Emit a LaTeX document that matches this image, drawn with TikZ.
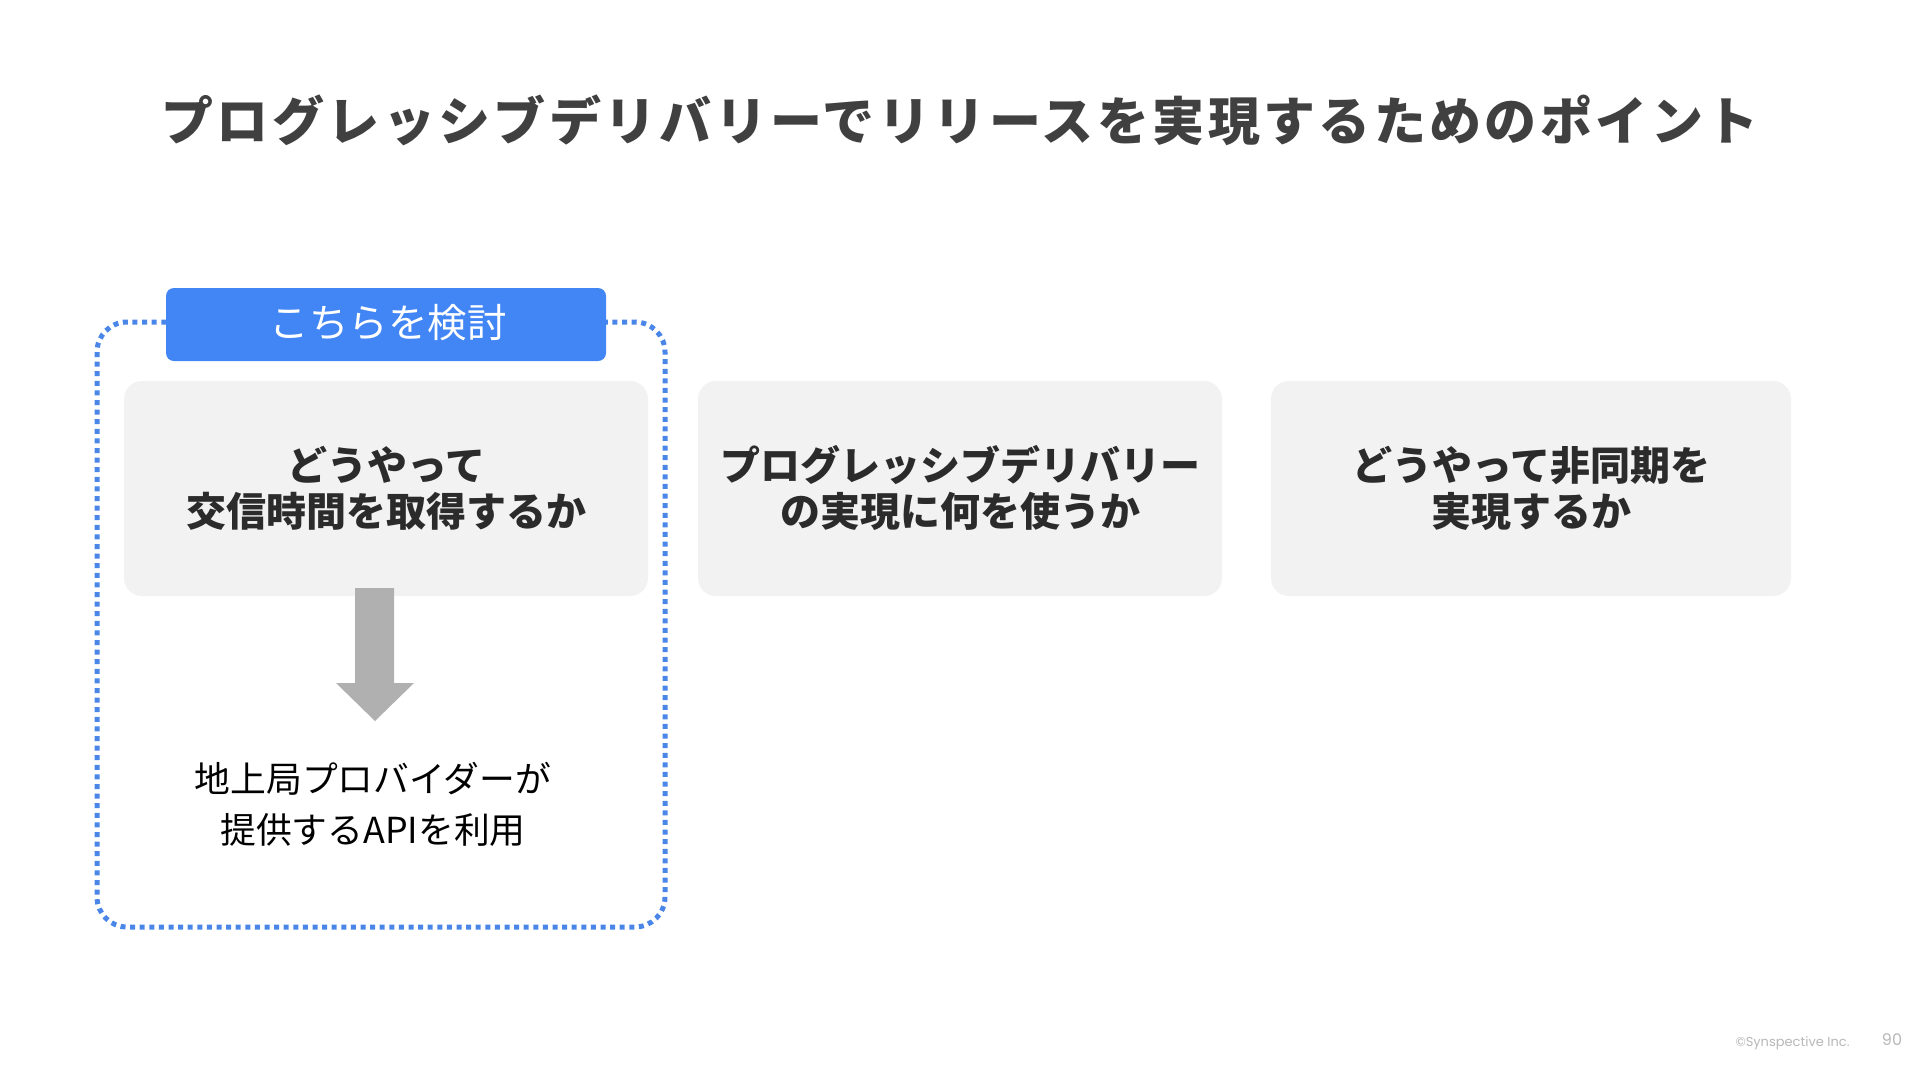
\documentclass[tikz,border=0pt]{standalone}
\usepackage{fontspec}
\newfontfamily\jp{Noto Sans CJK JP}
\newfontfamily\jptitle[LetterSpace=6.5]{Noto Sans CJK JP}
\newfontfamily\foot{Poppins}
\definecolor{titlegray}{HTML}{404040}
\definecolor{boxgray}{HTML}{F2F2F2}
\definecolor{textdark}{HTML}{2B2B2B}
\definecolor{framblue}{HTML}{4A86E8}
\definecolor{labelblue}{HTML}{4285F4}
\definecolor{arrowgray}{HTML}{B0B0B0}
\definecolor{footgray}{HTML}{B8B8B8}
\tikzset{
  card/.style={fill=boxgray, rounded corners=18pt, draw=none},
  cardtext/.style={align=center, text=textdark, font=\jp\bfseries\fontsize{40}{46}\selectfont},
  dotframe/.style={draw=framblue, line width=5pt, dash pattern=on 5pt off 4.6pt, rounded corners=30pt},
}
\begin{document}
\begin{tikzpicture}[x=1pt,y=-1pt]
\useasboundingbox[fill=white] (0,0) rectangle (1920,1080);

% title
\node[anchor=base, text=titlegray, font=\jptitle\bfseries\fontsize{52}{60}\selectfont] (title) at (960,140) {プログレッシブデリバリーでリリースを実現するためのポイント};

% dotted frame
\draw[dotframe] (97,322) rectangle (665,927);

% label
\fill[labelblue, rounded corners=8pt] (166,288) rectangle (606,361);
\node[text=white, font=\jp\fontsize{39.5}{44}\selectfont] (label) at (388,323) {こちらを検討};

% cards
\fill[card] (124,381) rectangle (648,596);
\fill[card] (698,381) rectangle (1222,596);
\fill[card] (1271,381) rectangle (1791,596);
\node[cardtext] (c1) at (386,488) {どうやって\\交信時間を取得するか};
\node[cardtext] (c2) at (960,488) {プログレッシブデリバリー\\の実現に何を使うか};
\node[cardtext] (c3) at (1531,488) {どうやって非同期を\\実現するか};

% arrow
\fill[arrowgray] (355,588) -- (394,588) -- (394,683) -- (414,683) -- (375,721) -- (336,683) -- (355,683) -- cycle;

% result text
\node[align=center, text=black, font=\jp\fontsize{35.8}{51}\selectfont] (res) at (373,804) {地上局プロバイダーが\\提供するAPIを利用};

% footer
\node[anchor=east, text=footgray, font=\foot\fontsize{13}{15}\selectfont] (copy) at (1853,1043) {©Synspective Inc.};
\node[text=footgray, font=\foot\fontsize{16}{18}\selectfont] (page) at (1892,1040) {90};
\end{tikzpicture}
\end{document}
